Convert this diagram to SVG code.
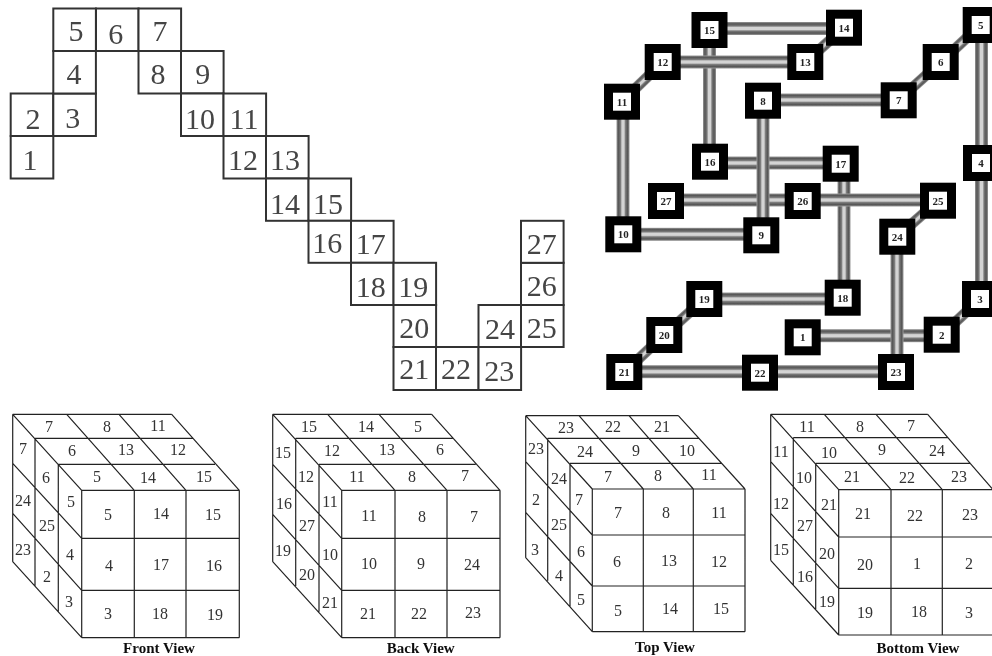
<svg xmlns="http://www.w3.org/2000/svg" width="992" height="656" viewBox="0 0 992 656">
<defs>
<linearGradient id="gh" x1="0" y1="0" x2="0" y2="1"><stop offset="0" stop-color="#999"/><stop offset=".14" stop-color="#555"/><stop offset=".3" stop-color="#777"/><stop offset=".42" stop-color="#d4d4d4"/><stop offset=".58" stop-color="#d4d4d4"/><stop offset=".7" stop-color="#777"/><stop offset=".86" stop-color="#555"/><stop offset="1" stop-color="#999"/></linearGradient>
<linearGradient id="gv" x1="0" y1="0" x2="1" y2="0"><stop offset="0" stop-color="#999"/><stop offset=".14" stop-color="#555"/><stop offset=".3" stop-color="#777"/><stop offset=".42" stop-color="#d4d4d4"/><stop offset=".58" stop-color="#d4d4d4"/><stop offset=".7" stop-color="#777"/><stop offset=".86" stop-color="#555"/><stop offset="1" stop-color="#999"/></linearGradient>
<filter id="soft" x="-5%" y="-5%" width="110%" height="110%"><feGaussianBlur stdDeviation="0.45"/></filter>
</defs>
<style>
.soft{filter:url(#soft)}
text{font-family:"Liberation Serif","Times New Roman",serif;text-anchor:middle;dominant-baseline:central}
.cell rect{fill:#fff;stroke:#333;stroke-width:2}
.cell text{font-size:30px;fill:#444}
.h{fill:url(#gh)}
.v{fill:url(#gv)}
.node rect{fill:#fff;stroke:#000;stroke-width:9}
.node text{font-size:11px;font-weight:bold;fill:#222}
.cube path{fill:none;stroke:#222;stroke-width:1.2}
.cube text{font-size:16px;fill:#333}
.cube text.cap{font-size:15px;font-weight:bold;fill:#111}
</style>
<rect width="992" height="656" fill="#fff"/>
<g id="net" class="soft">
<g class="cell" id="cell-1"><rect x="10.7" y="136" width="42.6" height="42.5"/><text x="30" y="159">1</text></g>
<g class="cell" id="cell-2"><rect x="10.7" y="93.5" width="42.6" height="42.5"/><text x="33" y="118">2</text></g>
<g class="cell" id="cell-3"><rect x="53.3" y="93.5" width="42.6" height="42.5"/><text x="72.7" y="117">3</text></g>
<g class="cell" id="cell-4"><rect x="53.3" y="51" width="42.6" height="42.5"/><text x="74" y="73">4</text></g>
<g class="cell" id="cell-5"><rect x="53.3" y="8.5" width="42.6" height="42.5"/><text x="76" y="30">5</text></g>
<g class="cell" id="cell-6"><rect x="96" y="8.5" width="42.6" height="42.5"/><text x="115.7" y="33">6</text></g>
<g class="cell" id="cell-7"><rect x="138.5" y="8.5" width="42.6" height="42.5"/><text x="160" y="30">7</text></g>
<g class="cell" id="cell-8"><rect x="138.5" y="51" width="42.6" height="42.5"/><text x="158" y="73">8</text></g>
<g class="cell" id="cell-9"><rect x="181" y="51" width="42.6" height="42.5"/><text x="202.7" y="73">9</text></g>
<g class="cell" id="cell-10"><rect x="181" y="93.5" width="42.6" height="42.5"/><text x="200" y="118">10</text></g>
<g class="cell" id="cell-11"><rect x="223.5" y="93.5" width="42.6" height="42.5"/><text x="244" y="118">11</text></g>
<g class="cell" id="cell-12"><rect x="223.5" y="136" width="42.6" height="42.5"/><text x="243" y="159">12</text></g>
<g class="cell" id="cell-13"><rect x="266" y="136" width="42.6" height="42.5"/><text x="285" y="159">13</text></g>
<g class="cell" id="cell-14"><rect x="266" y="178.5" width="42.6" height="42.3"/><text x="285" y="203">14</text></g>
<g class="cell" id="cell-15"><rect x="308.5" y="178.5" width="42.6" height="42.3"/><text x="328" y="203">15</text></g>
<g class="cell" id="cell-16"><rect x="308.5" y="220.8" width="42.6" height="42"/><text x="327.3" y="242">16</text></g>
<g class="cell" id="cell-17"><rect x="351" y="220.8" width="42.6" height="42"/><text x="370.7" y="243">17</text></g>
<g class="cell" id="cell-18"><rect x="351" y="262.8" width="42.6" height="42.2"/><text x="370.7" y="286">18</text></g>
<g class="cell" id="cell-19"><rect x="393.5" y="262.8" width="42.6" height="42.2"/><text x="413.3" y="286">19</text></g>
<g class="cell" id="cell-20"><rect x="393.5" y="305" width="42.6" height="42"/><text x="414.3" y="327">20</text></g>
<g class="cell" id="cell-21"><rect x="393.5" y="347" width="42.6" height="43"/><text x="414.3" y="368.5">21</text></g>
<g class="cell" id="cell-22"><rect x="436" y="347" width="42.6" height="43"/><text x="456" y="368.5">22</text></g>
<g class="cell" id="cell-23"><rect x="478.5" y="347" width="42.6" height="43"/><text x="499.3" y="370">23</text></g>
<g class="cell" id="cell-24"><rect x="478.5" y="305" width="42.6" height="42"/><text x="500" y="328">24</text></g>
<g class="cell" id="cell-25"><rect x="521" y="305" width="42.6" height="42"/><text x="541.7" y="327">25</text></g>
<g class="cell" id="cell-26"><rect x="521" y="262.8" width="42.6" height="42.2"/><text x="541.7" y="285">26</text></g>
<g class="cell" id="cell-27"><rect x="521" y="220.8" width="42.6" height="42"/><text x="541.7" y="243">27</text></g>
</g>
<g id="hamiltonian" class="soft">
<g id="connectors">
<rect class="h" x="709" y="22" width="135" height="13"/>
<rect class="v" x="703" y="30" width="13" height="132"/>
<rect class="h" x="663" y="55.5" width="142" height="13"/>
<rect class="h" x="710" y="156.5" width="131" height="13"/>
<rect class="h" x="666" y="193.5" width="137" height="13"/>
<rect class="v" x="837.500" y="164" width="13" height="134"/>
<rect class="h" x="803" y="193.500" width="135" height="13"/>
<rect class="h" x="803" y="329.200" width="139" height="13"/>
<rect class="v" x="756.500" y="100" width="13" height="135"/>
<rect class="v" x="890.500" y="237" width="13" height="135"/>
<rect class="h" x="763" y="93.500" width="136" height="13"/>
<rect class="v" x="616.500" y="102" width="13" height="132"/>
<rect class="h" x="623" y="227.800" width="138" height="13"/>
<rect class="v" x="975" y="25" width="13" height="138"/>
<rect class="v" x="975" y="163" width="13" height="136"/>
<rect class="h" x="704" y="292.500" width="139" height="13"/>
<rect class="h" x="624" y="365.200" width="136" height="13"/>
<rect class="h" x="760" y="365.200" width="136" height="13"/>
<g transform="translate(824.6 45) rotate(-42)"><rect class="h" x="-26" y="-5.500" width="52" height="11"/></g>
<g transform="translate(642.3 81.8) rotate(-44)"><rect class="h" x="-28" y="-5.500" width="56" height="11"/></g>
<g transform="translate(960.7 43.5) rotate(-43)"><rect class="h" x="-27" y="-5.500" width="54" height="11"/></g>
<g transform="translate(919.7 81) rotate(-42)"><rect class="h" x="-28" y="-5.500" width="56" height="11"/></g>
<g transform="translate(917.6 218.7) rotate(-41.5)"><rect class="h" x="-27" y="-5.500" width="54" height="11"/></g>
<g transform="translate(684.3 317) rotate(-42)"><rect class="h" x="-27" y="-5.500" width="54" height="11"/></g>
<g transform="translate(644.3 353.5) rotate(-43)"><rect class="h" x="-27" y="-5.500" width="54" height="11"/></g>
<g transform="translate(960.8 317) rotate(-43)"><rect class="h" x="-26" y="-5.500" width="52" height="11"/></g>
</g>
<g class="node" id="n1"><rect x="789.200" y="323.800" width="27" height="27"/><text x="802.7" y="337.300">1</text></g>
<g class="node" id="n2"><rect x="928.200" y="321.200" width="27" height="27"/><text x="941.7" y="334.700">2</text></g>
<g class="node" id="n3"><rect x="966.500" y="285.500" width="27" height="27"/><text x="980" y="299">3</text></g>
<g class="node" id="n4"><rect x="967.500" y="149.500" width="27" height="27"/><text x="981" y="163">4</text></g>
<g class="node" id="n5"><rect x="967.200" y="11.500" width="27" height="27"/><text x="980.7" y="25">5</text></g>
<g class="node" id="n6"><rect x="927.200" y="48.500" width="27" height="27"/><text x="940.7" y="62">6</text></g>
<g class="node" id="n7"><rect x="885.200" y="86.800" width="27" height="27"/><text x="898.7" y="100.300">7</text></g>
<g class="node" id="n8"><rect x="749.500" y="87.200" width="27" height="27"/><text x="763" y="100.700">8</text></g>
<g class="node" id="n9"><rect x="747.800" y="221.800" width="27" height="27"/><text x="761.3" y="235.300">9</text></g>
<g class="node" id="n10"><rect x="609.800" y="220.800" width="27" height="27"/><text x="623.3" y="234.300">10</text></g>
<g class="node" id="n11"><rect x="608.500" y="88.200" width="27" height="27"/><text x="622" y="101.700">11</text></g>
<g class="node" id="n12"><rect x="649.200" y="48.500" width="27" height="27"/><text x="662.7" y="62">12</text></g>
<g class="node" id="n13"><rect x="791.800" y="48.500" width="27" height="27"/><text x="805.3" y="62">13</text></g>
<g class="node" id="n14"><rect x="830.500" y="14.200" width="27" height="27"/><text x="844" y="27.700">14</text></g>
<g class="node" id="n15"><rect x="696" y="16.500" width="27" height="27"/><text x="709.5" y="30">15</text></g>
<g class="node" id="n16"><rect x="696.500" y="148.200" width="27" height="27"/><text x="710" y="161.700">16</text></g>
<g class="node" id="n17"><rect x="827.200" y="150.200" width="27" height="27"/><text x="840.7" y="163.700">17</text></g>
<g class="node" id="n18"><rect x="829.200" y="284.200" width="27" height="27"/><text x="842.7" y="297.700">18</text></g>
<g class="node" id="n19"><rect x="690.800" y="285.500" width="27" height="27"/><text x="704.3" y="299">19</text></g>
<g class="node" id="n20"><rect x="650.800" y="321.500" width="27" height="27"/><text x="664.3" y="335">20</text></g>
<g class="node" id="n21"><rect x="610.800" y="358.500" width="27" height="27"/><text x="624.3" y="372">21</text></g>
<g class="node" id="n22"><rect x="746.500" y="359.200" width="27" height="27"/><text x="760" y="372.700">22</text></g>
<g class="node" id="n23"><rect x="882.500" y="358.500" width="27" height="27"/><text x="896" y="372">23</text></g>
<g class="node" id="n24"><rect x="883.800" y="223.200" width="27" height="27"/><text x="897.3" y="236.700">24</text></g>
<g class="node" id="n25"><rect x="924.500" y="187.200" width="27" height="27"/><text x="938" y="200.700">25</text></g>
<g class="node" id="n26"><rect x="789.200" y="187.500" width="27" height="27"/><text x="802.7" y="201">26</text></g>
<g class="node" id="n27"><rect x="652.500" y="187.500" width="27" height="27"/><text x="666" y="201">27</text></g>
</g>
<g id="cube-front" class="cube soft" transform="translate(0 405)">
<path d="M12.700 9.300H171.700M35 33.300H192.700M58.300 59.300H215M81.700 85.300H239.300M81.700 133.300H239.300M81.700 185.300H239.300M81.700 232.700H239.300M12.700 9.300L81.700 85.300M66.700 9.300L134.300 85.300M119 9.300L186 85.300M171.700 9.300L239.300 85.300M12.700 58.300L81.700 133.300M12.700 108.300L81.700 185.300M12.700 156.700L81.700 232.700M12.700 9.300V156.700M35 33.300V181M58.300 59.300V206.700M81.700 85.300V232.700M134.300 85.300V232.700M186 85.300V232.700M239.300 85.300V232.700"/>
<text x="49" y="21">7</text><text x="107" y="21">8</text><text x="158" y="20">11</text><text x="72" y="45">6</text><text x="126" y="44">13</text><text x="178" y="44">12</text><text x="97" y="71">5</text><text x="148" y="72">14</text><text x="204" y="71">15</text>
<text x="23" y="43">7</text><text x="46" y="72">6</text><text x="71" y="96">5</text><text x="23" y="95">24</text><text x="47" y="120">25</text><text x="70" y="149">4</text><text x="23" y="144">23</text><text x="47" y="171">2</text><text x="69" y="196">3</text>
<text x="108" y="109">5</text><text x="161" y="108">14</text><text x="213" y="109">15</text><text x="109" y="160">4</text><text x="161" y="159">17</text><text x="214" y="160">16</text><text x="108" y="208">3</text><text x="160" y="208">18</text><text x="215" y="209">19</text>
<text class="cap" x="159" y="243">Front View</text>
</g>
<g id="cube-back" class="cube soft" transform="translate(260 405)">
<path d="M12.700 9.300H171.700M35.700 33.300H192.700M59 59.300H215.700M81.700 85.300H240M81.700 133.300H240M81.700 185.300H240M81.700 232.700H240M12.700 9.300L81.700 85.300M67.700 9.300L135 85.300M119 9.300L187 85.300M171.700 9.300L240 85.300M12.700 59.300L81.700 133.300M12.700 109.300L81.700 185.300M12.700 156.700L81.700 232.700M12.700 9.300V156.700M35.700 33.300V181M59 59.300V206.700M81.700 85.300V232.700M135 85.300V232.700M187 85.300V232.700M240 85.300V232.700"/>
<text x="49" y="21">15</text><text x="106" y="21">14</text><text x="158" y="21">5</text><text x="72" y="45">12</text><text x="127" y="44">13</text><text x="180" y="44">6</text><text x="97" y="71">11</text><text x="152" y="71">8</text><text x="205" y="70">7</text>
<text x="23" y="47">15</text><text x="46" y="71">12</text><text x="70" y="96">11</text><text x="24" y="98">16</text><text x="47" y="120">27</text><text x="70" y="149">10</text><text x="23" y="145">19</text><text x="47" y="169">20</text><text x="70" y="197">21</text>
<text x="109" y="110">11</text><text x="162" y="111">8</text><text x="214" y="111">7</text><text x="109" y="158">10</text><text x="161" y="158">9</text><text x="212" y="159">24</text><text x="108" y="208">21</text><text x="159" y="208">22</text><text x="213" y="207">23</text>
<text class="cap" x="160.700" y="243.300">Back View</text>
</g>
<g id="cube-top" class="cube soft" transform="translate(510 405)">
<path d="M15.700 10.700H168.300M37.700 33.300H189.300M60 58.300H211.700M82.300 84H235M82.300 130H235M82.300 181H235M82.300 226.700H235M15.700 10.700L82.300 84M69 10.700L133.300 84M119 10.700L183.300 84M168.300 10.700L235 84M15.700 56.700L82.300 130M15.700 107.300L82.300 181M15.700 152.700L82.300 226.700M15.700 10.700V152.700M37.700 33.300V175.700M60 58.300V201.700M82.300 84V226.700M133.300 84V226.700M183.300 84V226.700M235 84V226.700"/>
<text x="56" y="22">23</text><text x="103" y="21">22</text><text x="152" y="21">21</text><text x="75" y="46">24</text><text x="126" y="45">9</text><text x="177" y="45">10</text><text x="98" y="71">7</text><text x="148" y="70">8</text><text x="199" y="69">11</text>
<text x="26" y="43">23</text><text x="49" y="73">24</text><text x="69" y="94">7</text><text x="26" y="94">2</text><text x="49" y="119">25</text><text x="71" y="146">6</text><text x="25" y="144">3</text><text x="49" y="170">4</text><text x="71" y="194">5</text>
<text x="108" y="107">7</text><text x="156" y="107">8</text><text x="209" y="107">11</text><text x="107" y="156">6</text><text x="159" y="155">13</text><text x="209" y="156">12</text><text x="108" y="205">5</text><text x="160" y="203">14</text><text x="211" y="203">15</text>
<text class="cap" x="155" y="242">Top View</text>
</g>
<g id="cube-bottom" class="cube soft" transform="translate(750 405)">
<path d="M20.700 9.300H177.700M43.300 32.700H198.300M65.700 58.300H220.700M88.700 84.700H243M88.700 132H243M88.700 183.300H243M88.700 230H243M20.700 9.300L88.700 84.700M74.300 9.300L141 84.700M126 9.300L192.300 84.700M177.700 9.300L243 84.700M20.700 56.700L88.700 132M20.700 108.300L88.700 183.300M20.700 155.300L88.700 230M20.700 9.300V155.300M43.300 32.700V180M65.700 58.300V204M88.700 84.700V230M141 84.700V230M192.300 84.700V230M243 84.700V230"/>
<text x="57" y="21">11</text><text x="110" y="21">8</text><text x="161" y="20">7</text><text x="79" y="47">10</text><text x="132" y="44">9</text><text x="187" y="45">24</text><text x="102" y="71">21</text><text x="157" y="72">22</text><text x="209" y="71">23</text>
<text x="31" y="46">11</text><text x="54" y="72">10</text><text x="79" y="99">21</text><text x="31" y="98">12</text><text x="55" y="120">27</text><text x="77" y="148">20</text><text x="31" y="144">15</text><text x="55" y="171">16</text><text x="77" y="196">19</text>
<text x="113" y="108">21</text><text x="165" y="110">22</text><text x="220" y="109">23</text><text x="115" y="159">20</text><text x="167" y="158">1</text><text x="219" y="158">2</text><text x="115" y="207">19</text><text x="169" y="206">18</text><text x="219" y="207">3</text>
<text class="cap" x="168" y="243.300">Bottom View</text>
</g>
</svg>
